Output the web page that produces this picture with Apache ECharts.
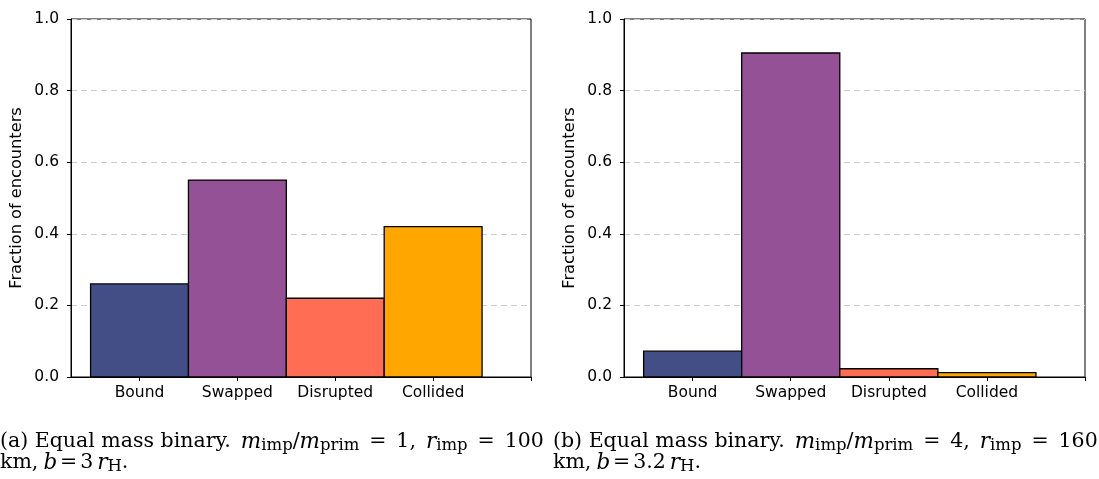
<!DOCTYPE html>
<html>
<head>
<meta charset="utf-8">
<script src="https://cdn.jsdelivr.net/npm/echarts@6/dist/echarts.min.js"></script>
<style>
  html, body { margin: 0; padding: 0; background: #fff; }
  #chart { width: 1099px; height: 479px; }
</style>
</head>
<body>
<div id="chart"></div>
<script>
// Outcome categories and the fraction of encounters ending in each
const categories = ['Bound', 'Swapped', 'Disrupted', 'Collided'];
const fractionsEqual = [0.26, 0.55, 0.22, 0.42];     // panel (a): m_imp/m_prim = 1
const fractionsHeavy = [0.072, 0.905, 0.023, 0.012]; // panel (b): m_imp/m_prim = 4
const barColors = ['#444e86', '#955196', '#ff6e54', '#ffa600'];
const yTickValues = [0, 0.2, 0.4, 0.6, 0.8, 1.0];

const chart = echarts.init(document.getElementById('chart'), null, { renderer: 'canvas' });

const sansFont = 'DejaVu Sans';
const serifFont = 'DejaVu Serif';

function makeGrid(left, right) {
  return {
    left: left, right: right, top: 19, bottom: 102,
    show: true, borderColor: '#000', borderWidth: 1, backgroundColor: 'transparent'
  };
}

function makeXAxis(gridIndex) {
  return {
    type: 'value', gridIndex: gridIndex, min: -0.7, max: 4,
    axisLine: { show: true, onZero: false, lineStyle: { color: '#000', width: 1 } },
    axisTick: { show: true, length: 4, lineStyle: { color: '#000' }, customValues: [0, 1, 2, 3, 4] },
    axisLabel: {
      show: true, margin: 8, color: '#000', fontFamily: sansFont, fontSize: 15.5,
      customValues: [0, 1, 2, 3],
      formatter: v => categories[Math.round(v)] || ''
    },
    splitLine: { show: false }
  };
}

function makeYAxis(gridIndex) {
  return {
    type: 'value', gridIndex: gridIndex, min: 0, max: 1, interval: 0.2,
    name: 'Fraction of encounters', nameLocation: 'middle', nameGap: 46, nameRotate: 90,
    nameTextStyle: { color: '#000', fontFamily: sansFont, fontSize: 16.2 },
    axisLine: { show: true, onZero: false, lineStyle: { color: '#000', width: 1 } },
    axisTick: { show: true, length: 4, lineStyle: { color: '#000' }, customValues: yTickValues },
    axisLabel: {
      margin: 12, color: '#000', fontFamily: sansFont, fontSize: 15.5,
      customValues: yTickValues,
      formatter: v => v.toFixed(1)
    },
    splitLine: { show: true, lineStyle: { color: '#cccccc', type: [6, 4], width: 1 } }
  };
}

// Each bar spans one full unit around its category position
function barSeries(values, idx) {
  return {
    type: 'custom', xAxisIndex: idx, yAxisIndex: idx,
    data: values.map((v, i) => [i, v]),
    renderItem: function (params, api) {
      const i = api.value(0);
      const v = api.value(1);
      const p0 = api.coord([i - 0.5, v]);
      const p1 = api.coord([i + 0.5, 0]);
      return {
        type: 'rect',
        shape: { x: p0[0], y: p0[1], width: p1[0] - p0[0], height: p1[1] - p0[1] },
        style: { fill: barColors[i], stroke: '#000', lineWidth: 1.3 }
      };
    },
    z: 3
  };
}

// Caption typography: roman text, italic math symbols, lowered roman subscripts,
// plus fixed-width spacers so the first line fills the column
const capSize = 20.5;
function capStyle(extra) {
  return Object.assign({ fontFamily: serifFont, fontSize: capSize, verticalAlign: 'middle', lineHeight: 24 }, extra);
}
const capRich = {
  r: capStyle({}),
  i: capStyle({ fontSize: 21.5, fontStyle: 'italic' }),
  s: capStyle({ fontSize: 16.5, verticalAlign: 'bottom' }),
  g: capStyle({ width: 10 }),
  c: capStyle({ width: 10 }),
  t: capStyle({ width: 4 }),
  k: capStyle({ width: 5 }),
  e: capStyle({ width: 37, align: 'center' }),
  q: capStyle({ width: 23, align: 'center' })
};

function captionLine1(tag, ratio, radius) {
  return '{r|(' + tag + ') Equal mass binary.}{g| }{i|m}{s|imp}{r|/}{i|m}{s|prim}{e|=}{r|' + ratio + ',}{c| }' +
         '{i|r}{s|imp}{e|=}{r|' + radius + '}';
}
function captionLine2(bval) {
  return '{r|km,}{k| }{i|b}{q|=}{r|' + bval + '}{t| }{i|r}{s|H}{r|.}';
}

function captionText(left, top, text) {
  return { type: 'text', left: left, top: top, style: { text: text, rich: capRich, fill: '#000' } };
}

chart.setOption({
  animation: false,
  backgroundColor: '#fff',
  grid: [makeGrid(71, 568), makeGrid(624, 14)],
  xAxis: [makeXAxis(0), makeXAxis(1)],
  yAxis: [makeYAxis(0), makeYAxis(1)],
  series: [barSeries(fractionsEqual, 0), barSeries(fractionsHeavy, 1)],
  graphic: [
    captionText(0, 431, captionLine1('a', '1', '100')),
    captionText(0, 452, captionLine2('3')),
    captionText(553, 431, captionLine1('b', '4', '160')),
    captionText(553, 452, captionLine2('3.2'))
  ]
});
</script>
</body>
</html>
